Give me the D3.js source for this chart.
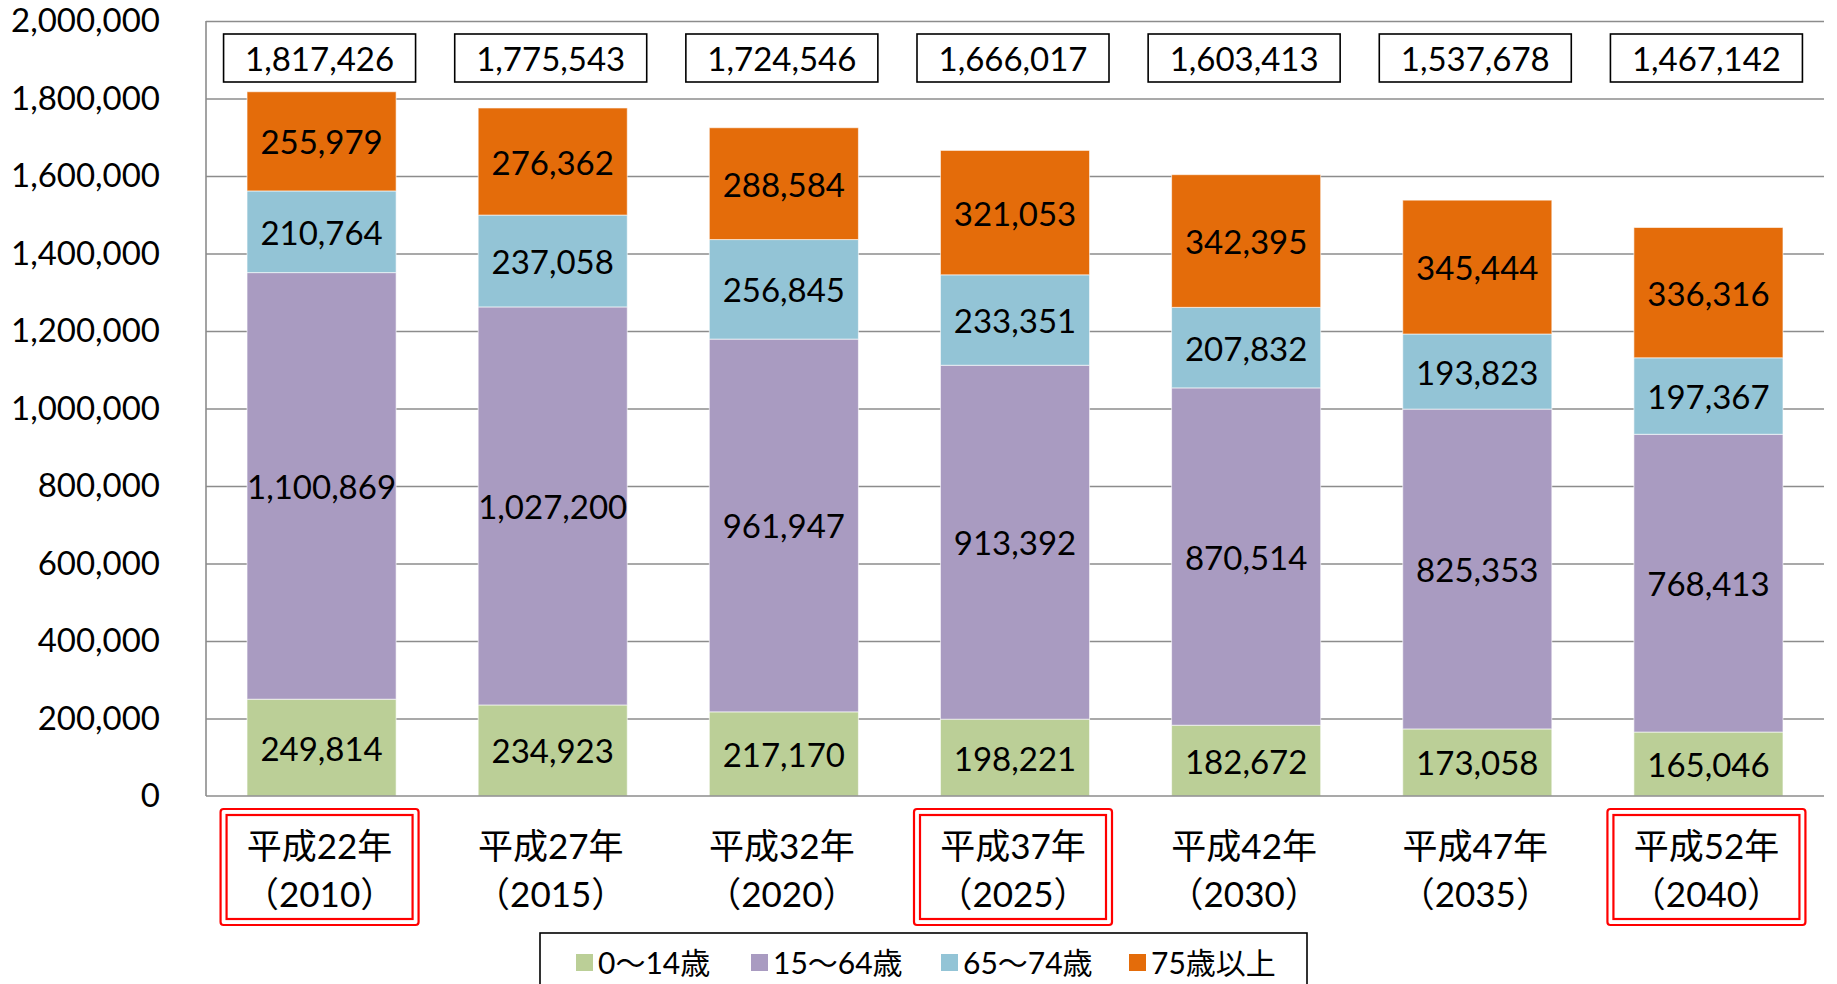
<!DOCTYPE html>
<html>
<head>
<meta charset="utf-8">
<script src="https://cdn.jsdelivr.net/npm/d3@7/dist/d3.min.js"></script>
<style>
  html, body { margin: 0; padding: 0; background: #fff; }
  svg { display: block; }
  text { font-family: Lato, "Noto Sans CJK JP", sans-serif; fill: #000; }
</style>
</head>
<body>
<svg id="chart" width="1837" height="984"></svg>
<script>
// ---- Data ----
const categories = ["平成22年", "平成27年", "平成32年", "平成37年", "平成42年", "平成47年", "平成52年"];
const years = ["（2010）", "（2015）", "（2020）", "（2025）", "（2030）", "（2035）", "（2040）"];
const highlighted = [0, 3, 6];
const seriesNames = ["0〜14歳", "15〜64歳", "65〜74歳", "75歳以上"];
const age0_14 = [249814, 234923, 217170, 198221, 182672, 173058, 165046];
const age15_64 = [1100869, 1027200, 961947, 913392, 870514, 825353, 768413];
const age65_74 = [210764, 237058, 256845, 233351, 207832, 193823, 197367];
const age75plus = [255979, 276362, 288584, 321053, 342395, 345444, 336316];
const totals = [1817426, 1775543, 1724546, 1666017, 1603413, 1537678, 1467142];
const yTicks = [0, 200000, 400000, 600000, 800000, 1000000, 1200000, 1400000, 1600000, 1800000, 2000000];
const colors = ["#BBCF97", "#A99BC1", "#93C4D6", "#E46C0A"];

(function () {
const seriesValues = [age0_14, age15_64, age65_74, age75plus];
const rows = categories.map((c, i) => {
  const r = { cat: c, idx: i };
  seriesNames.forEach((s, j) => r[s] = seriesValues[j][i]);
  return r;
});

const svg = d3.select("#chart");
const pLeft = 206, pRight = 1824, pTop = 21, pBottom = 796;

const x = d3.scaleBand().domain(categories).range([pLeft, pRight]).paddingInner(0.355).paddingOuter(0.1775);
const y = d3.scaleLinear().domain([0, 2000000]).range([pBottom, pTop]);
const fmt = d3.format(",");

// gridlines
svg.append("g")
  .attr("transform", `translate(${pLeft},0)`)
  .call(d3.axisLeft(y).tickValues(yTicks.slice(1)).tickSize(-(pRight - pLeft)).tickFormat(""))
  .call(g => g.select(".domain").remove())
  .call(g => g.selectAll("line").attr("stroke", "#8c8c8c").attr("stroke-width", 1.6));

// y labels
svg.append("g")
  .attr("transform", `translate(${pLeft},0)`)
  .call(d3.axisLeft(y).tickValues(yTicks).tickSize(0).tickPadding(46).tickFormat(fmt))
  .call(g => g.select(".domain").remove())
  .call(g => g.selectAll("text").style("font-size", "33px").style("font-family", "Lato, 'Noto Sans CJK JP', sans-serif").attr("fill", "#000"));

// stacked bars
const stack = d3.stack().keys(seriesNames)(rows);
const layers = svg.append("g").selectAll("g").data(stack).join("g")
  .attr("fill", (d, i) => colors[i]);
layers.selectAll("rect").data(d => d).join("rect")
  .attr("x", d => x(d.data.cat))
  .attr("width", x.bandwidth())
  .attr("y", d => y(d[1]))
  .attr("height", d => y(d[0]) - y(d[1]))
  .attr("stroke", "#ffffff")
  .attr("stroke-opacity", 0.6)
  .attr("stroke-width", 1);

// segment labels
const labels = svg.append("g");
stack.forEach(layer => {
  labels.append("g").selectAll("text").data(layer).join("text")
    .attr("x", d => x(d.data.cat) + x.bandwidth() / 2)
    .attr("y", d => (y(d[0]) + y(d[1])) / 2)
    .attr("text-anchor", "middle")
    .attr("dominant-baseline", "central")
    .style("font-size", "33px")
    .text(d => fmt(d[1] - d[0]));
});

// axes lines
svg.append("line").attr("x1", pLeft).attr("x2", pLeft).attr("y1", pTop).attr("y2", pBottom)
  .attr("stroke", "#8c8c8c").attr("stroke-width", 1.6);
svg.append("line").attr("x1", pLeft).attr("x2", pRight).attr("y1", pBottom).attr("y2", pBottom)
  .attr("stroke", "#8c8c8c").attr("stroke-width", 1.6);

// total boxes
const tot = svg.append("g").selectAll("g").data(totals).join("g")
  .attr("transform", (d, i) => `translate(${x(categories[i]) + x.bandwidth() / 2 - 2},0)`);
tot.append("rect").attr("x", -96).attr("y", 34).attr("width", 192).attr("height", 48)
  .attr("fill", "#fff").attr("stroke", "#000").attr("stroke-width", 1.6);
tot.append("text").attr("x", 0).attr("y", 58).attr("text-anchor", "middle")
  .attr("dominant-baseline", "central").style("font-size", "33px").text(d => fmt(d));

// x labels
const xl = svg.append("g").selectAll("g").data(categories).join("g")
  .attr("transform", d => `translate(${x(d) + x.bandwidth() / 2 - 2},0)`);
xl.append("text").attr("y", 845).attr("text-anchor", "middle").attr("dominant-baseline", "central")
  .style("font-size", "35px").text(d => d);
xl.append("text").attr("y", 893).attr("text-anchor", "middle").attr("dominant-baseline", "central")
  .style("font-size", "35px").text((d, i) => years[i]);
xl.filter((d, i) => highlighted.includes(i)).each(function () {
  const g = d3.select(this);
  g.append("rect").attr("x", -99).attr("y", 809).attr("width", 198).attr("height", 116)
    .attr("rx", 3).attr("fill", "none").attr("stroke", "#ff0000").attr("stroke-width", 2.2);
  g.append("rect").attr("x", -93).attr("y", 815).attr("width", 186).attr("height", 104)
    .attr("fill", "none").attr("stroke", "#ff0000").attr("stroke-width", 2.2);
});

// legend
const lg = svg.append("g");
lg.append("rect").attr("x", 540).attr("y", 933).attr("width", 767).attr("height", 70)
  .attr("fill", "#fff").attr("stroke", "#000").attr("stroke-width", 1.6);
const legendX = [576, 751, 941, 1129];
seriesNames.forEach((s, i) => {
  lg.append("rect").attr("x", legendX[i]).attr("y", 954).attr("width", 17).attr("height", 17).attr("fill", colors[i]);
  lg.append("text").attr("x", legendX[i] + 22).attr("y", 962).attr("dominant-baseline", "central")
    .style("font-size", "30px").text(s);
});
})();
</script>
</body>
</html>
